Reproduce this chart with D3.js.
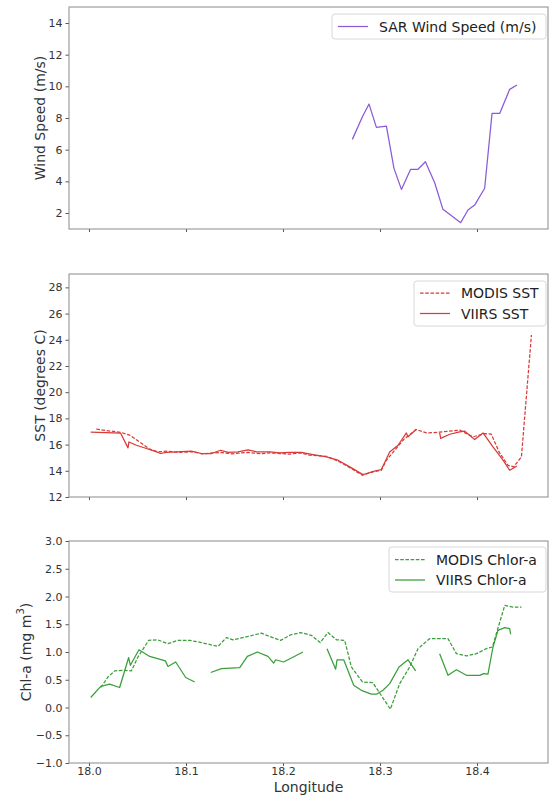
<!DOCTYPE html>
<html>
<head>
<meta charset="utf-8">
<script src="https://cdn.jsdelivr.net/npm/d3@7"></script>
<style>
  html, body { margin: 0; padding: 0; background: #fff; }
  svg { display: block; font-family: "DejaVu Sans", sans-serif; }
</style>
</head>
<body>
<svg id="fig" width="550" height="798"></svg>
<script>
// Longitude tick marks shared by all three panels
const lonTicks = [18.0, 18.1, 18.2, 18.3, 18.4];

// SAR wind speed (m/s)
const windLon = [18.2715, 18.2819, 18.2887, 18.2963, 18.3066, 18.3144, 18.3221, 18.3316, 18.3392, 18.3468,
                 18.3564, 18.3649, 18.3832, 18.3907, 18.3976, 18.4079, 18.4155, 18.4234, 18.4337, 18.4412];
const windSpeed = [6.65, 8.08, 8.88, 7.41, 7.49, 4.82, 3.49, 4.76, 4.76, 5.24,
                   3.91, 2.23, 1.39, 2.19, 2.50, 3.56, 8.29, 8.29, 9.81, 10.08];
const windTicks = [2, 4, 6, 8, 10, 12, 14];

// Sea surface temperature (degrees C)
const sstModisLon = [18.0076, 18.0334, 18.0420, 18.0523, 18.0626, 18.0711, 18.0814, 18.0918, 18.1072, 18.1159,
                     18.1365, 18.1468, 18.1639, 18.1777, 18.1863, 18.2069, 18.2172, 18.2275, 18.2447, 18.2585,
                     18.2705, 18.2819, 18.2928, 18.3014, 18.3066, 18.3152, 18.3255, 18.3375, 18.3478, 18.3615,
                     18.3822, 18.3959, 18.4079, 18.4148, 18.4227, 18.4320, 18.4378, 18.4458, 18.4561];
const sstModis = [17.18, 16.92, 16.72, 16.20, 15.65, 15.44, 15.50, 15.40, 15.45, 15.30,
                  15.40, 15.30, 15.40, 15.30, 15.37, 15.27, 15.37, 15.19, 15.11, 14.68,
                  14.17, 13.66, 13.91, 14.04, 14.81, 15.57, 16.47, 17.15, 16.89, 16.95,
                  17.10, 16.59, 16.84, 16.79, 15.44, 14.42, 14.30, 15.06, 24.36];

const sstViirsLon = [18.0018, 18.0327, 18.0402, 18.0412, 18.0489, 18.0592, 18.0677, 18.0739, 18.0798, 18.1056,
                     18.1159, 18.1262, 18.1358, 18.1433, 18.1536, 18.1639, 18.1726, 18.1863, 18.1966, 18.2069,
                     18.2190, 18.2309, 18.2447, 18.2567, 18.2688, 18.2825, 18.2911, 18.3014, 18.3100, 18.3186,
                     18.3272, 18.3289, 18.3375, 18.3495,
                     18.3615, 18.3626, 18.3719, 18.3822, 18.3874, 18.3976, 18.4062, 18.4165, 18.4268, 18.4337,
                     18.4412];
const sstViirs = [16.95, 16.87, 15.75, 16.20, 15.95, 15.70, 15.50, 15.32, 15.40, 15.50,
                  15.32, 15.32, 15.57, 15.40, 15.45, 15.60, 15.45, 15.44, 15.37, 15.40,
                  15.40, 15.24, 15.06, 14.81, 14.30, 13.71, 13.91, 14.10, 15.44, 15.95,
                  16.89, 16.59, 17.17, null,
                  16.90, 16.47, 16.79, 16.97, 17.02, 16.39, 16.89, 15.82, 14.81, 14.04,
                  14.37];
const sstTicks = [12, 14, 16, 18, 20, 22, 24, 26, 28];

// Chlorophyll-a (mg m^-3)
const chlModisLon = [18.0121, 18.0196, 18.0265, 18.0368, 18.0437, 18.0505, 18.0615, 18.0705, 18.0814, 18.0918,
                     18.1038, 18.1159, 18.1330, 18.1416, 18.1485, 18.1639, 18.1777, 18.1863, 18.1976, 18.2079,
                     18.2182, 18.2293, 18.2384, 18.2464, 18.2551, 18.2636, 18.2705, 18.2819, 18.2925, 18.3107,
                     18.3203, 18.3306, 18.3392, 18.3512, 18.3701, 18.3788, 18.3891, 18.3994, 18.4097, 18.4159,
                     18.4286, 18.4371, 18.4458];
const chlModis = [0.36, 0.55, 0.66, 0.67, 0.66, 0.91, 1.21, 1.22, 1.15, 1.21,
                  1.21, 1.17, 1.10, 1.26, 1.22, 1.28, 1.34, 1.28, 1.21, 1.31,
                  1.35, 1.30, 1.17, 1.35, 1.22, 1.21, 0.73, 0.46, 0.45, -0.03,
                  0.43, 0.73, 1.06, 1.24, 1.24, 0.97, 0.93, 0.97, 1.06, 1.09,
                  1.84, 1.81, 1.81];

const chlViirsLon = [18.0018, 18.0121, 18.0213, 18.0316, 18.0409, 18.0427, 18.0515, 18.0626, 18.0788, 18.0814,
                     18.0894, 18.0997, 18.1090, 18.1170,
                     18.1255, 18.1365, 18.1554, 18.1633, 18.1736, 18.1845, 18.1904, 18.1925, 18.2007, 18.2206,
                     18.2330,
                     18.2454, 18.2543, 18.2557, 18.2626, 18.2729, 18.2808, 18.2911, 18.2963, 18.3031, 18.3100,
                     18.3196, 18.3289, 18.3368, 18.3490,
                     18.3615, 18.3701, 18.3788, 18.3891, 18.4028, 18.4069, 18.4113, 18.4165, 18.4216, 18.4286,
                     18.4337, 18.4347];
const chlViirs = [0.18, 0.38, 0.42, 0.36, 0.90, 0.76, 1.04, 0.92, 0.84, 0.74,
                  0.82, 0.54, 0.46, null,
                  0.63, 0.70, 0.72, 0.92, 1.00, 0.92, 0.80, 0.86, 0.82, 1.00,
                  null,
                  1.06, 0.69, 0.86, 0.86, 0.40, 0.31, 0.24, 0.24, 0.31, 0.43,
                  0.73, 0.86, 0.66, null,
                  0.97, 0.58, 0.68, 0.58, 0.58, 0.61, 0.60, 1.09, 1.39, 1.44,
                  1.42, 1.32];
const chlTicks = [-1.0, -0.5, 0.0, 0.5, 1.0, 1.5, 2.0, 2.5, 3.0];

const PURPLE = "#8a5ad8", RED = "#d93a3a", GREEN = "#3a9e3a";
const DASH = "3.6,1.6";

const svg = d3.select("#fig");
const left = 69, right = 548;
const x = d3.scaleLinear().domain([17.9794, 18.4732]).range([left, right]);

function zip(xs, ys) { return xs.map((v, i) => [v, ys[i]]); }

function panel(opts) {
  const y = d3.scaleLinear().domain(opts.yDomain).range([opts.bottom, opts.top]);
  const g = svg.append("g");

  // data lines
  const line = d3.line().defined(d => d[1] != null).x(d => x(d[0])).y(d => y(d[1]));
  opts.series.forEach(s => {
    g.append("path").datum(zip(s.lon, s.val))
      .attr("fill", "none").attr("stroke", s.color).attr("stroke-width", 1.25)
      .attr("stroke-dasharray", s.dash ? DASH : null)
      .attr("stroke-linejoin", "round")
      .attr("d", line);
  });

  // axes
  const yAxis = d3.axisLeft(y).tickValues(opts.yTicks).tickSize(3.5).tickPadding(3)
    .tickFormat(opts.yFormat);
  const gy = g.append("g").attr("transform", `translate(${left},0)`).call(yAxis);
  const xAxis = d3.axisBottom(x).tickValues(lonTicks).tickSize(3).tickPadding(1.5)
    .tickFormat(opts.xLabels ? d3.format(".1f") : () => "");
  const gx = g.append("g").attr("transform", `translate(0,${opts.bottom})`).call(xAxis);
  [gx, gy].forEach(a => {
    a.select(".domain").remove();
    a.selectAll(".tick line").attr("stroke", "#555");
    a.selectAll(".tick text").attr("fill", "#333").style("font-size", "11px")
      .style("font-family", "DejaVu Sans, sans-serif");
  });

  // frame
  g.append("rect").attr("x", left).attr("y", opts.top)
    .attr("width", right - left).attr("height", opts.bottom - opts.top)
    .attr("fill", "none").attr("stroke", "#8a8a8a").attr("stroke-width", 1);

  // y label
  const yl = g.append("text")
    .attr("transform", `translate(${opts.ylX},${(opts.top + opts.bottom) / 2}) rotate(-90)`)
    .attr("text-anchor", "middle").attr("dominant-baseline", "central")
    .attr("fill", "#333").style("font-size", "14px");
  opts.ylabel(yl);

  // legend
  const L = opts.legend;
  g.append("rect").attr("x", L.x).attr("y", L.y).attr("width", L.w).attr("height", L.h)
    .attr("rx", 3).attr("fill", "#fff").attr("fill-opacity", 0.85)
    .attr("stroke", "#d8d8d8");
  L.items.forEach((it, i) => {
    const cy = L.y + L.first + i * 20.5;
    g.append("line").attr("x1", L.x + 6).attr("x2", L.x + 36).attr("y1", cy).attr("y2", cy)
      .attr("stroke", it.color).attr("stroke-width", 1.25)
      .attr("stroke-dasharray", it.dash ? DASH : null);
    g.append("text").attr("x", L.x + 47).attr("y", cy).attr("dominant-baseline", "central")
      .attr("fill", "#222").style("font-size", "14px").text(it.label);
  });
}

panel({
  top: 7, bottom: 229, yDomain: [0.99, 15.01], yTicks: windTicks, yFormat: d3.format("d"),
  ylX: 40, ylabel: t => t.text("Wind Speed (m/s)"),
  series: [{ lon: windLon, val: windSpeed, color: PURPLE }],
  legend: { x: 332, y: 14, w: 214, h: 25, first: 12.5,
            items: [{ label: "SAR Wind Speed (m/s)", color: PURPLE }] }
});

panel({
  top: 274, bottom: 497, yDomain: [12, 29.02], yTicks: sstTicks, yFormat: d3.format("d"),
  ylX: 40, ylabel: t => t.text("SST (degrees C)"),
  series: [{ lon: sstModisLon, val: sstModis, color: RED, dash: true },
           { lon: sstViirsLon, val: sstViirs, color: RED }],
  legend: { x: 414, y: 281, w: 132, h: 45, first: 12,
            items: [{ label: "MODIS SST", color: RED, dash: true },
                    { label: "VIIRS SST", color: RED }] }
});

panel({
  top: 541, bottom: 763, yDomain: [-1, 3], yTicks: chlTicks, yFormat: d3.format(".1f"),
  xLabels: true,
  ylX: 26, ylabel: t => {
    t.append("tspan").text("Chl-a (mg m");
    t.append("tspan").attr("dy", -6).style("font-size", "10px").text("3");
    t.append("tspan").attr("dy", 6).text(")");
  },
  series: [{ lon: chlModisLon, val: chlModis, color: GREEN, dash: true },
           { lon: chlViirsLon, val: chlViirs, color: GREEN }],
  legend: { x: 389, y: 547, w: 157, h: 45, first: 12.5,
            items: [{ label: "MODIS Chlor-a", color: GREEN, dash: true },
                    { label: "VIIRS Chlor-a", color: GREEN }] }
});

// shared x label
svg.append("text").attr("x", (left + right) / 2).attr("y", 787)
  .attr("text-anchor", "middle").attr("dominant-baseline", "central")
  .attr("fill", "#333").style("font-size", "14px").text("Longitude");
</script>
</body>
</html>
